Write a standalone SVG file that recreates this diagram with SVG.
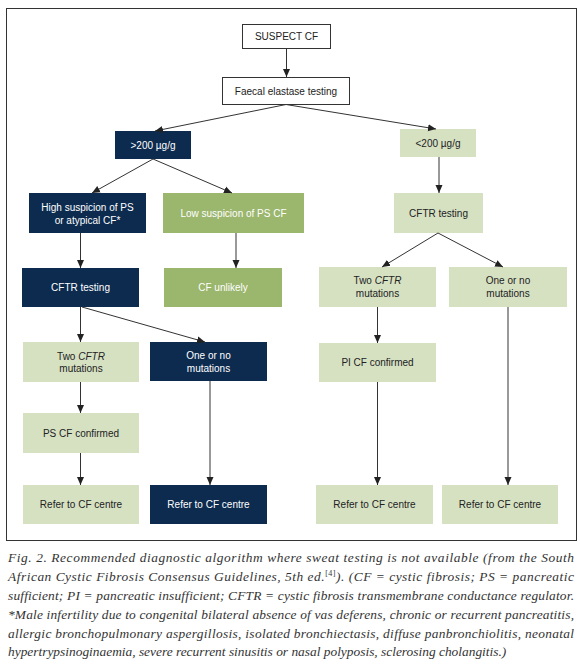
<svg xmlns="http://www.w3.org/2000/svg" width="580" height="665" viewBox="0 0 580 665">
<defs>
<marker id="ah" markerUnits="userSpaceOnUse" markerWidth="8" markerHeight="8" refX="8" refY="4" orient="auto">
<path d="M0,0.5 L8,4 L0,7.5 z" fill="#222"/>
</marker>
<style>
.frame{fill:none;stroke:#333;stroke-width:1}
.wb{fill:#fff;stroke:#333;stroke-width:1}
.nv{fill:#0c2b4f}
.lg{fill:#d6e1c2}
.mg{fill:#9bb66d}
.t{font-family:'Liberation Sans',Arial,sans-serif;font-size:10px;text-anchor:middle;fill:#222}
.tw{fill:#fff}
.c line{stroke:#333;stroke-width:1;marker-end:url(#ah)}
.cap{font-family:'Liberation Serif','Times New Roman',serif;font-style:italic;font-size:13.4px;fill:#333}
</style>
</defs>
<rect class="frame" x="6.5" y="8.5" width="570" height="532"/>

<g id="suspect"><rect class="wb" x="242.5" y="24.5" width="88" height="24"/><text class="t" x="286.5" y="40">SUSPECT CF</text></g>
<g id="faecal"><rect class="wb" x="222.5" y="77.5" width="127" height="27"/><text class="t" x="286" y="94.5">Faecal elastase testing</text></g>
<g id="gt200"><rect class="nv" x="115" y="131" width="76" height="28"/><text class="t tw" x="153" y="148.5">&gt;200 µg/g</text></g>
<g id="lt200"><rect class="lg" x="400" y="129" width="76" height="28"/><text class="t" x="438" y="146.5">&lt;200 µg/g</text></g>
<g id="high"><rect class="nv" x="29" y="193" width="117" height="40"/><text class="t tw" x="87.5" y="210.5">High suspicion of PS</text><text class="t tw" x="87.5" y="224">or atypical CF*</text></g>
<g id="low"><rect class="mg" x="163" y="193" width="141" height="40"/><text class="t tw" x="233.5" y="216.5">Low suspicion of PS CF</text></g>
<g id="cftrR"><rect class="lg" x="394" y="193" width="89" height="40"/><text class="t" x="438.5" y="216.5">CFTR testing</text></g>
<g id="cftrL"><rect class="nv" x="22" y="268" width="117" height="39"/><text class="t tw" x="80.5" y="291">CFTR testing</text></g>
<g id="unlikely"><rect class="mg" x="164" y="268" width="118" height="39"/><text class="t tw" x="223" y="291">CF unlikely</text></g>
<g id="twoR"><rect class="lg" x="319" y="267" width="117" height="40"/><text class="t" x="377.5" y="283.5">Two <tspan font-style="italic">CFTR</tspan></text><text class="t" x="377.5" y="297">mutations</text></g>
<g id="oneR"><rect class="lg" x="449" y="267" width="118" height="40"/><text class="t" x="508" y="283.5">One or no</text><text class="t" x="508" y="297">mutations</text></g>
<g id="twoL"><rect class="lg" x="23" y="342" width="116" height="40"/><text class="t" x="81" y="359.5">Two <tspan font-style="italic">CFTR</tspan></text><text class="t" x="81" y="372">mutations</text></g>
<g id="oneL"><rect class="nv" x="150" y="342" width="117" height="39"/><text class="t tw" x="208.5" y="359">One or no</text><text class="t tw" x="208.5" y="372">mutations</text></g>
<g id="piconf"><rect class="lg" x="319" y="343" width="117" height="39"/><text class="t" x="377.5" y="366">PI CF confirmed</text></g>
<g id="psconf"><rect class="lg" x="23" y="413" width="116" height="40"/><text class="t" x="81" y="436.5">PS CF confirmed</text></g>
<g id="refer1"><rect class="lg" x="23" y="485" width="116" height="39"/><text class="t" x="81" y="508">Refer to CF centre</text></g>
<g id="refer2"><rect class="nv" x="150" y="485" width="117" height="39"/><text class="t tw" x="208.5" y="508">Refer to CF centre</text></g>
<g id="refer3"><rect class="lg" x="316" y="485" width="117" height="39"/><text class="t" x="374.5" y="508">Refer to CF centre</text></g>
<g id="refer4"><rect class="lg" x="442" y="485" width="116" height="39"/><text class="t" x="500" y="508">Refer to CF centre</text></g>

<g id="connectors" class="c">
<line x1="286.5" y1="48.5" x2="286.5" y2="77"/>
<line x1="286" y1="104.5" x2="155" y2="131"/>
<line x1="286" y1="104.5" x2="436" y2="129"/>
<line x1="439" y1="157" x2="439" y2="193"/>
<line x1="153" y1="159" x2="92" y2="193"/>
<line x1="153" y1="159" x2="232" y2="193"/>
<line x1="80.5" y1="233" x2="80.5" y2="268"/>
<line x1="236" y1="233" x2="236" y2="268"/>
<line x1="80.5" y1="307" x2="80.5" y2="342"/>
<line x1="82" y1="307" x2="205" y2="342"/>
<line x1="438" y1="233" x2="382" y2="267"/>
<line x1="438" y1="233" x2="503" y2="267"/>
<line x1="377.5" y1="307" x2="377.5" y2="343"/>
<line x1="80.5" y1="382" x2="80.5" y2="413"/>
<line x1="80.5" y1="453" x2="80.5" y2="485"/>
<line x1="210" y1="381" x2="210" y2="485"/>
<line x1="377.5" y1="382" x2="377.5" y2="485"/>
<line x1="508" y1="307" x2="508" y2="485"/>
</g>

<g id="caption">
<text class="cap" x="8" y="562" textLength="566" lengthAdjust="spacing">Fig. 2. Recommended diagnostic algorithm where sweat testing is not available (from the South</text>
<text class="cap" x="8" y="581" textLength="566" lengthAdjust="spacing">African Cystic Fibrosis Consensus Guidelines, 5th ed.<tspan font-size="8" font-style="normal" dy="-5">[4]</tspan><tspan dy="5">). (CF = cystic fibrosis; PS = pancreatic</tspan></text>
<text class="cap" x="8" y="600" textLength="566" lengthAdjust="spacing">sufficient; PI = pancreatic insufficient; CFTR = cystic fibrosis transmembrane conductance regulator.</text>
<text class="cap" x="8" y="618.5" textLength="566" lengthAdjust="spacing">*Male infertility due to congenital bilateral absence of vas deferens, chronic or recurrent pancreatitis,</text>
<text class="cap" x="8" y="637.5" textLength="566" lengthAdjust="spacing">allergic bronchopulmonary aspergillosis, isolated bronchiectasis, diffuse panbronchiolitis, neonatal</text>
<text class="cap" x="8" y="656">hypertrypsinoginaemia, severe recurrent sinusitis or nasal polyposis, sclerosing cholangitis.)</text>
</g>
</svg>
